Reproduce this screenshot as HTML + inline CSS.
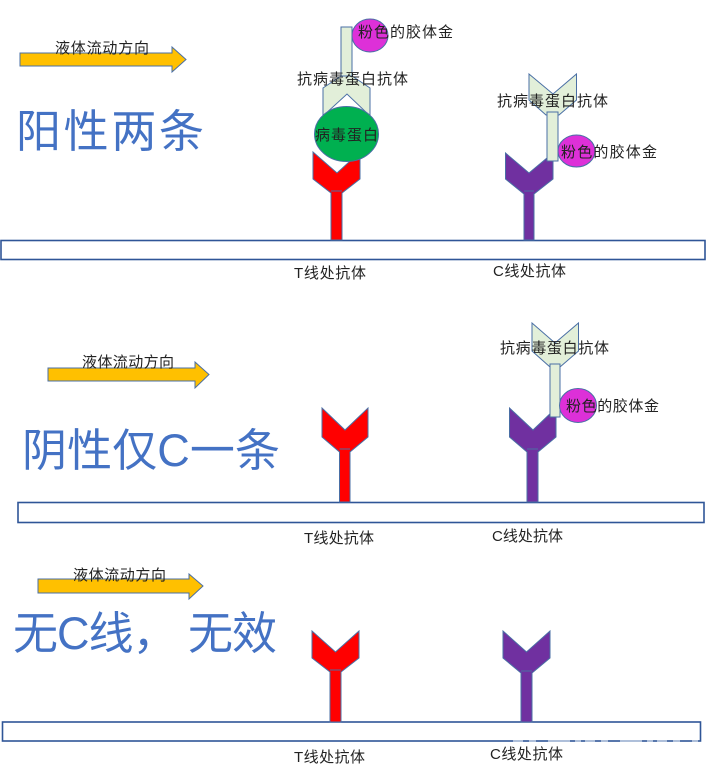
<!DOCTYPE html>
<html>
<head>
<meta charset="utf-8">
<style>
html,body{margin:0;padding:0;background:#fff;width:711px;height:771px;overflow:hidden}
svg{display:block;filter:blur(0.35px)}
text{font-family:"Liberation Sans","Noto Sans CJK SC",sans-serif;fill:#222;font-size:15px}
.big{fill:#4472c4;font-size:45px}
.bar{fill:#fff;stroke:#2f5597;stroke-width:1.6}
.y{fill:#ffc000;stroke:#4a6fa5;stroke-width:1}
.r{fill:#f00;stroke:#4a6fa5;stroke-width:1}
.p{fill:#7030a0;stroke:#4a6fa5;stroke-width:1}
.g{fill:#e2efd9;stroke:#4a6fa5;stroke-width:1}
.m{fill:#dd30d8;stroke:#4a6fa5;stroke-width:1}
.t{stroke:#4a6fa5;stroke-width:1;fill:none}
</style>
</head>
<body>
<svg width="711" height="771" viewBox="0 0 711 771" xmlns="http://www.w3.org/2000/svg">

<!-- Panel 1 -->
<rect class="bar" x="1" y="240.500" width="704" height="19"/>
<polygon class="y" points="20,53 172,53 172,47 186,59.500 172,72 172,66 20,66"/>
<text x="55" y="53" textLength="94">液体流动方向</text>
<text class="big" x="16" y="147" textLength="188">阳性两条</text>

<path class="r" d="M313 152L337 173L360 152V179L342 193V240H331V193L313 179Z"/>
<path class="t" d="M331 191H342"/>
<path class="p" d="M505.500 153L529 173L553 153V179L534 194V240H524V194L505.500 179Z"/>
<path class="t" d="M524 191H534"/>

<!-- upper antibody, T -->
<rect class="g" x="341" y="27" width="11" height="60"/>
<path class="g" d="M323 88L341 76H352L370 88V116L347 94L323 116Z"/>
<ellipse cx="346.500" cy="134" rx="32" ry="27.500" fill="#00b050" stroke="#4a6fa5"/>
<ellipse class="m" cx="370" cy="35.500" rx="18" ry="16.500"/>
<text x="358" y="37" textLength="95">粉色的胶体金</text>
<text x="297" y="84" textLength="111">抗病毒蛋白抗体</text>
<text x="315" y="140" textLength="63">病毒蛋白</text>

<!-- upper antibody, C -->
<path class="g" d="M529 74L553 94L576.500 74V100L559 115H546L529 100Z"/>
<rect class="g" x="547" y="112" width="11" height="49"/>
<ellipse class="m" cx="576.500" cy="151" rx="18.500" ry="16"/>
<text x="561" y="157" textLength="96">粉色的胶体金</text>
<text x="497" y="106" textLength="111">抗病毒蛋白抗体</text>
<text x="294" y="278" textLength="72">T线处抗体</text>
<text x="493" y="276" textLength="73">C线处抗体</text>

<!-- Panel 2 -->
<rect class="bar" x="18" y="502.500" width="686" height="20"/>
<polygon class="y" points="48,368 195,368 195,362 209,374.500 195,388 195,381 48,381"/>
<text x="82" y="367" textLength="92">液体流动方向</text>
<text class="big" x="22" y="466" textLength="258">阴性仅C一条</text>

<path class="r" d="M322 408L345 430L368 408V437L350 452V502H339.500V452L322 437Z"/>
<path class="t" d="M339.500 449H350"/>
<path class="p" d="M509.500 408L533 430L556 408V437L538 452V502H527V452L509.500 437Z"/>
<path class="t" d="M527 449H538"/>
<path class="g" d="M532 323L555 343L578.500 323V351L560 367H550L532 351Z"/>
<rect class="g" x="550" y="364" width="10" height="53"/>
<ellipse class="m" cx="578" cy="405.500" rx="18.500" ry="17"/>
<text x="566" y="411" textLength="93">粉色的胶体金</text>
<text x="500" y="353" textLength="109">抗病毒蛋白抗体</text>
<text x="304" y="543" textLength="70">T线处抗体</text>
<text x="492" y="541" textLength="71">C线处抗体</text>

<!-- Panel 3 -->
<rect class="bar" x="2.500" y="722" width="698" height="19"/>
<polygon class="y" points="38,579 189,579 189,574 203,586 189,599 189,593 38,593"/>
<text x="73" y="580" textLength="93">液体流动方向</text>
<text class="big" x="13" y="649" textLength="264">无C线，&#160;无效</text>

<path class="r" d="M312 631L335.500 652L359 631V658L341 672V722H330V672L312 658Z"/>
<path class="t" d="M330 670H341"/>
<path class="p" d="M503 631L526.500 652L550 631V658L532 673V722H521V673L503 658Z"/>
<path class="t" d="M521 671H532"/>
<text x="294" y="762" textLength="71">T线处抗体</text>
<text x="490" y="759" textLength="73">C线处抗体</text>
<line x1="513" y1="741" x2="698" y2="741" stroke="#c9d6ea" stroke-width="1.2" stroke-dasharray="10 6 7 12 22 5 6 4"/>
</svg>
</body>
</html>
